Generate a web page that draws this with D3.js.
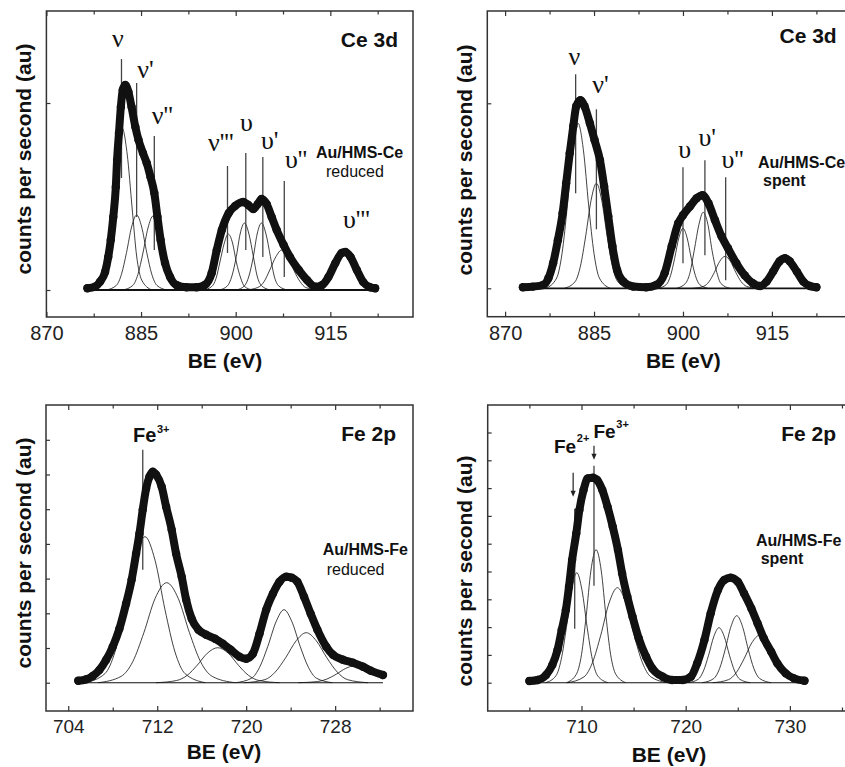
<!DOCTYPE html>
<html><head><meta charset="utf-8">
<script src="https://cdn.jsdelivr.net/npm/d3@7"></script>
<style>body{margin:0;background:#fff}svg{display:block}</style>
</head><body>
<svg id="c" width="845" height="767"></svg>
<script>
// ---------- tick values ----------
const ceTicksMajor = [870, 885, 900, 915];
const ceTicksMinor = [877.5, 892.5, 907.5, 922.5];
const feRedTicksMajor = [704, 712, 720, 728];
const feRedTicksMinor = [708, 716, 724, 732];
const feSpTicksMajor = [710, 720, 730];
const feSpTicksMinor = [705, 715, 725, 735];
const ceRedYTicks = [0, 187];
const ceSpYTicks = [0, 185];
const feRedYTicks = [0, 34.7, 69.4, 104.1, 138.8, 173.5, 208.2, 242.9];
const feSpYTicks = [0, 27.8, 55.6, 83.4, 111.2, 139.0, 166.8, 194.6, 222.4, 250.2];

// ---------- experimental envelopes [BE, counts] ----------
const ceReducedEnvelope = [[876.5,1.7],[877.7,3.3],[878.5,8.3],[879.3,18],[879.8,33],[880.2,50],[880.6,73],[881.0,103],[881.2,130],[881.5,157],[881.8,183],[882.1,200],[882.5,205],[883.0,198],[883.5,183],[884.1,163],[884.6,150],[885.3,137],[885.9,127],[886.5,113],[887.1,97],[887.6,73],[888.1,50],[888.8,27],[889.6,13],[890.6,5],[892.2,2.7],[893.8,2.7],[895.1,5],[896.2,17],[897.0,40],[897.8,60],[898.9,77],[899.9,84],[901.2,88],[902.0,85],[902.8,81],[903.5,86],[904.1,91],[904.9,86],[905.7,73],[906.5,60],[907.6,45],[908.6,33],[910.0,20],[911.3,10],[912.6,3.3],[913.7,5],[914.7,13],[915.8,27],[916.8,37],[917.4,38],[918.2,33],[919.2,20],[920.2,8],[921.3,2.7],[922.1,1.7]];
const ceSpentEnvelope = [[873.0,1],[874.7,1.7],[876.4,3.3],[877.3,10],[878.1,25],[878.9,48],[879.7,75],[880.3,105],[880.9,135],[881.5,162],[882.0,182],[882.7,188],[883.4,182],[884.3,165],[885.1,148],[886.0,128],[886.7,102],[887.4,72],[888.1,42],[888.9,18],[889.9,7],[891.6,1.7],[893.8,1],[895.5,3.3],[896.9,15],[898.1,42],[899.2,65],[900.0,73],[901.2,82],[902.3,90],[903.3,93],[904.3,85],[905.4,68],[906.5,52],[907.6,40],[909.0,25],[910.4,13],[911.8,5],[913.0,2.3],[914.1,6.7],[915.2,16.7],[916.3,27],[917.2,30],[918.0,27],[919.2,16.7],[920.3,6.7],[921.4,2.3],[922.5,1]];
const feReducedEnvelope = [[704.9,2],[705.6,3.3],[706.2,6.7],[706.8,12.7],[707.4,22.7],[708.0,36],[708.6,54],[709.2,79],[709.7,103],[710.1,129],[710.4,149],[710.7,173],[711.0,194],[711.3,206],[711.6,211],[711.9,208],[712.4,196],[712.8,176],[713.3,153],[713.7,129],[714.2,106],[714.6,83],[715.1,64],[715.7,53],[716.4,48],[717.2,44],[717.9,39],[718.6,33],[719.4,26],[720.0,24],[720.6,29],[721.2,49],[721.8,73],[722.4,89],[723.0,101],[723.6,106],[724.1,105],[724.6,101],[725.2,86],[725.8,69],[726.4,53],[727.2,36],[727.8,28],[728.7,23],[729.6,20],[730.5,16],[731.2,12],[732.3,7.7]];
const feSpentEnvelope = [[705.0,1.7],[705.8,2.7],[706.6,7.7],[707.2,17.7],[707.7,32.7],[708.1,52.7],[708.5,72.7],[708.8,96],[709.1,122.7],[709.5,149.3],[709.8,172.7],[710.2,192.7],[710.6,204.3],[711.1,205],[711.5,202.7],[712.0,192.7],[712.5,176],[713.0,156],[713.5,132.7],[713.9,109.3],[714.4,86],[714.9,66],[715.5,44.3],[716.2,26],[716.8,14.3],[717.8,6],[718.7,2.7],[719.7,2.7],[720.5,6],[721.1,19.3],[721.8,42.7],[722.4,69.3],[723.1,92.7],[723.7,102.7],[724.3,105],[725.0,101],[725.6,89.3],[726.3,74.3],[726.9,59.3],[727.5,44.3],[728.2,31],[728.8,19.3],[729.6,9.3],[730.4,4.3],[731.4,2]];

// ---------- fitted components [BE, counts] ----------
const ceRedNu   = [[877.4,0],[878.9,10],[879.7,34],[880.5,81],[881.2,136],[882.0,162],[882.8,136],[883.6,81],[884.3,34],[885.1,10],[886.7,0]];
const ceRedNu1  = [[879.5,0],[881.1,4.7],[881.9,15.8],[882.7,37.5],[883.5,63],[884.3,75],[885.1,63],[885.9,37.5],[886.7,15.8],[887.5,4.7],[889.1,0]];
const ceRedNu2  = [[882.1,0],[883.7,4.6],[884.5,15.5],[885.3,37],[886.1,62],[886.9,74],[887.7,62],[888.5,37],[889.3,15.5],[890.1,4.6],[891.7,0]];
const ceRedNu3  = [[894.9,0],[896.2,3.5],[896.9,11.8],[897.5,28],[898.2,47],[898.8,56],[899.5,47],[900.1,28],[900.8,11.8],[901.4,3.5],[902.7,0]];
const ceRedU    = [[897.4,0],[898.7,4.2],[899.4,14],[900.1,33.5],[900.7,56],[901.4,67],[902.1,56],[902.8,33.5],[903.4,14],[904.1,4.2],[905.5,0]];
const ceRedU1   = [[900.1,0],[901.4,4.2],[902.1,14],[902.8,33.5],[903.4,56],[904.1,67],[904.8,56],[905.5,33.5],[906.1,14],[906.8,4.2],[908.2,0]];
const ceRedU2   = [[901.6,0],[903.5,2.5],[904.5,8.4],[905.4,20],[906.4,33.6],[907.3,40],[908.3,33.6],[909.2,20],[910.2,8.4],[911.1,2.5],[913.0,0]];

const ceSpNu  = [[876.9,0],[878.7,10.3],[879.6,34.7],[880.5,82.5],[881.4,138.6],[882.3,165],[883.2,138.6],[884.1,82.5],[885.0,34.7],[885.9,10.3],[887.7,0]];
const ceSpNu1 = [[880.0,0],[881.8,6.6],[882.7,22],[883.6,52.5],[884.5,88],[885.4,105],[886.3,88],[887.2,52.5],[888.1,22],[889.0,6.6],[890.8,0]];
const ceSpU   = [[895.8,0],[897.2,3.8],[897.9,12.6],[898.6,30],[899.3,50.4],[900.0,60],[900.7,50.4],[901.4,30],[902.1,12.6],[902.8,3.8],[904.2,0]];
const ceSpU1  = [[898.9,0],[900.4,4.8],[901.2,16],[901.9,38],[902.7,64],[903.4,76],[904.2,64],[904.9,38],[905.7,16],[906.4,4.8],[907.9,0]];
const ceSpU2  = [[901.7,0],[903.5,2],[904.4,6.7],[905.3,16],[906.2,27],[907.1,32],[908.0,27],[908.9,16],[909.8,6.7],[910.7,2],[912.5,0]];

const feRedC1 = [[705.5,0],[707.3,9.1],[708.2,30.7],[709.1,73],[710.0,122.6],[710.9,146],[711.8,122.6],[712.7,73],[713.6,30.7],[714.5,9.1],[716.3,0]];
const feRedC2 = [[706.7,0],[708.75,6.3],[709.8,21],[710.8,50],[711.8,84],[712.85,100],[713.9,84],[714.9,50],[715.9,21],[716.95,6.3],[719.0,0]];
const feRedC3 = [[711.9,0],[713.75,2.2],[714.7,7.4],[715.6,17.5],[716.5,29.4],[717.45,35],[718.4,29.4],[719.3,17.5],[720.2,7.4],[721.15,2.2],[723.0,0]];
const feRedC4 = [[719.05,0],[720.5,4.6],[721.2,15.3],[721.95,36.5],[722.7,61.3],[723.4,73],[724.1,61.3],[724.85,36.5],[725.6,15.3],[726.3,4.6],[727.75,0]];
const feRedC5 = [[719.85,0],[721.7,3.1],[722.6,10.5],[723.55,25],[724.5,42],[725.4,50],[726.3,42],[727.25,25],[728.2,10.5],[729.1,3.1],[730.95,0]];
const feRedC6 = [[724.7,0],[726.4,1.1],[727.25,3.6],[728.1,8.5],[728.95,14.3],[729.8,17],[730.65,14.3],[731.5,8.5],[732.3,3.7]];

const feSpC1 = [[706.55,0],[707.55,6.9],[708.05,23],[708.55,55],[709.05,92.4],[709.55,110],[710.05,92.4],[710.55,55],[711.05,23],[711.55,6.9],[712.55,0]];
const feSpC2 = [[708.55,0],[709.5,8.3],[710.0,28],[710.45,66.5],[710.9,111.7],[711.4,133],[711.9,111.7],[712.35,66.5],[712.8,28],[713.3,8.3],[714.25,0]];
const feSpC3 = [[708.65,0],[710.25,5.9],[711.05,20],[711.85,47.5],[712.65,79.8],[713.45,95],[714.25,79.8],[715.05,47.5],[715.85,20],[716.65,5.9],[718.25,0]];
const feSpC4 = [[720.2,0],[721.2,3.4],[721.7,11.6],[722.2,27.5],[722.7,46.2],[723.2,55],[723.7,46.2],[724.2,27.5],[724.7,11.6],[725.2,3.4],[726.2,0]];
const feSpC5 = [[721.6,0],[722.7,4.2],[723.25,14],[723.8,33.5],[724.35,56.3],[724.9,67],[725.45,56.3],[726.0,33.5],[726.55,14],[727.1,4.2],[728.2,0]];
const feSpC6 = [[722.6,0],[724.1,3],[724.85,10],[725.6,23.8],[726.35,40],[727.1,47.5],[727.85,40],[728.6,23.8],[729.35,10],[730.1,3],[731.6,0]];

// ---------- peak markers (BE, counts from / to) and labels ----------
const ceRedMarkers = [{x:881.9,y0:112,y1:231},{x:884.3,y0:73,y1:207},{x:887.1,y0:40,y1:154},{x:898.7,y0:37,y1:124},{x:901.6,y0:40,y1:137},{x:904.3,y0:33,y1:133},{x:907.7,y0:13,y1:109}];
const ceRedLabels = [{t:"ν",x:880.4,y:243},{t:"ν'",x:884.4,y:212},{t:"ν''",x:886.7,y:166},{t:"ν'''",x:895.6,y:139},{t:"υ",x:900.7,y:159},{t:"υ'",x:904.0,y:141},{t:"υ''",x:907.8,y:122},{t:"υ'''",x:917.0,y:62}];
const ceSpMarkers = [{x:881.9,y0:95,y1:214},{x:885.4,y0:59,y1:179},{x:900.0,y0:25,y1:121},{x:903.7,y0:33,y1:128},{x:907.2,y0:8,y1:111}];
const ceSpLabels = [{t:"ν",x:880.7,y:223},{t:"ν'",x:884.7,y:195},{t:"υ",x:899.2,y:130},{t:"υ'",x:902.6,y:142},{t:"υ''",x:906.5,y:120}];
const feRedMarkers = [{x:710.7,y0:113,y1:233}];
const feSpMarkers = [{x:709.35,y0:54,y1:174},{x:711.2,y0:97,y1:217}];
const feSpArrows = [{x:709.2,y0:210,y1:186},{x:711.2,y0:237,y1:223}];

// ---------- layout ----------
const SANS = "'Liberation Sans', Arial, sans-serif";
const SERIF = "'Liberation Serif', 'Times New Roman', serif";
const INK = "#111";
const svg = d3.select("#c");

const panels = [
  {l:46.4, r:413, t:11, b:317, xDom:[870,928.1], yDom:[-27,279], major:ceTicksMajor, minor:ceTicksMinor, yTicks:ceRedYTicks,
   env:ceReducedEnvelope, comps:[ceRedNu,ceRedNu1,ceRedNu2,ceRedNu3,ceRedU,ceRedU1,ceRedU2], markers:ceRedMarkers, labels:ceRedLabels, arrows:[],
   tickFs:20, tickOff:23, baseW:1.8,
   yTitle:[31,159], xTitle:[225,368], elem:{t:"Ce 3d", x:398, y:46.7}, samp:[{t:"Au/HMS-Ce",x:316,y:158,w:"bold"},{t:"reduced",x:326,y:177,w:"normal"}]},
  {l:487.3, r:849, t:11, b:316.7, xDom:[867,928], yDom:[-28.4,277.3], major:ceTicksMajor, minor:ceTicksMinor, yTicks:ceSpYTicks,
   env:ceSpentEnvelope, comps:[ceSpNu,ceSpNu1,ceSpU,ceSpU1,ceSpU2], markers:ceSpMarkers, labels:ceSpLabels, arrows:[],
   tickFs:20, tickOff:23, baseW:1.8,
   yTitle:[472,160], xTitle:[683.3,368], elem:{t:"Ce 3d", x:836.7, y:43.3}, samp:[{t:"Au/HMS-Ce",x:758,y:168,w:"bold"},{t:"spent",x:763,y:186,w:"bold"}]},
  {l:46, r:413, t:405, b:711, xDom:[702,735], yDom:[-28.3,277.7], major:feRedTicksMajor, minor:feRedTicksMinor, yTicks:feRedYTicks,
   env:feReducedEnvelope, comps:[feRedC1,feRedC2,feRedC3,feRedC4,feRedC5,feRedC6], markers:feRedMarkers, labels:[], arrows:[],
   tickFs:19, tickOff:21.5, baseW:1.1,
   yTitle:[31,553], xTitle:[224,759], elem:{t:"Fe 2p", x:396, y:440.7}, samp:[{t:"Au/HMS-Fe",x:322.7,y:555,w:"bold"},{t:"reduced",x:326.7,y:575,w:"normal"}]},
  {l:487.7, r:852.4, t:405, b:711, xDom:[701,736], yDom:[-28.3,277.7], major:feSpTicksMajor, minor:feSpTicksMinor, yTicks:feSpYTicks,
   env:feSpentEnvelope, comps:[feSpC1,feSpC2,feSpC3,feSpC4,feSpC5,feSpC6], markers:feSpMarkers, labels:[], arrows:feSpArrows,
   tickFs:19, tickOff:21.5, baseW:1.1,
   yTitle:[472,571], xTitle:[669,762], elem:{t:"Fe 2p", x:836, y:440.7}, samp:[{t:"Au/HMS-Fe",x:756,y:546,w:"bold"},{t:"spent",x:760.7,y:564,w:"bold"}]}
];

function styleAxis(sel) {
  sel.select(".domain").remove();
  sel.selectAll("line").attr("stroke", "#333").attr("stroke-width", 1.2);
}

panels.forEach((p, i) => {
  const x = d3.scaleLinear().domain(p.xDom).range([p.l, p.r]);
  const y = d3.scaleLinear().domain(p.yDom).range([p.b, p.t]);
  const g = svg.append("g");
  const line = d3.line().x(d => x(d[0])).y(d => y(d[1])).curve(d3.curveMonotoneX);

  // frame
  g.append("rect").attr("x", p.l).attr("y", p.t).attr("width", p.r - p.l).attr("height", p.b - p.t)
    .attr("fill", "none").attr("stroke", "#333").attr("stroke-width", 1.5);

  // bottom axis (major with labels)
  const bx = g.append("g").attr("transform", `translate(0,${p.b})`)
    .call(d3.axisBottom(x).tickValues(p.major).tickSizeInner(-5).tickSizeOuter(0).tickPadding(0).tickFormat(d3.format("d")));
  styleAxis(bx);
  bx.attr("font-family", SANS).attr("font-size", p.tickFs);
  bx.selectAll("text").attr("y", p.tickOff).attr("dy", null).attr("fill", "#222");
  const bxm = g.append("g").attr("transform", `translate(0,${p.b})`)
    .call(d3.axisBottom(x).tickValues(p.minor).tickSizeInner(-3.5).tickSizeOuter(0).tickFormat(""));
  styleAxis(bxm);
  // top axis
  const tx = g.append("g").attr("transform", `translate(0,${p.t})`)
    .call(d3.axisTop(x).tickValues(p.major).tickSizeInner(-5).tickSizeOuter(0).tickFormat(""));
  styleAxis(tx);
  const txm = g.append("g").attr("transform", `translate(0,${p.t})`)
    .call(d3.axisTop(x).tickValues(p.minor).tickSizeInner(-3.5).tickSizeOuter(0).tickFormat(""));
  styleAxis(txm);
  // left axis
  const ly = g.append("g").attr("transform", `translate(${p.l},0)`)
    .call(d3.axisLeft(y).tickValues(p.yTicks).tickSizeInner(-4).tickSizeOuter(0).tickFormat(""));
  styleAxis(ly);

  // fitted components
  g.append("g").selectAll("path").data(p.comps).join("path")
    .attr("d", line).attr("fill", "none").attr("stroke", INK).attr("stroke-width", 0.8);

  // baseline
  const ext = d3.extent(p.env, d => d[0]);
  g.append("line").attr("x1", x(ext[0])).attr("x2", x(ext[1])).attr("y1", y(0)).attr("y2", y(0))
    .attr("stroke", INK).attr("stroke-width", p.baseW);

  // peak marker lines
  g.append("g").selectAll("line").data(p.markers).join("line")
    .attr("x1", d => x(d.x)).attr("x2", d => x(d.x)).attr("y1", d => y(d.y0)).attr("y2", d => y(d.y1))
    .attr("stroke", "#444").attr("stroke-width", 1.3);

  // experimental envelope
  g.append("path").datum(p.env).attr("d", line).attr("fill", "none").attr("stroke", INK)
    .attr("stroke-width", 8).attr("stroke-linejoin", "round").attr("stroke-linecap", "round");
  g.append("g").selectAll("circle").data(p.env).join("circle")
    .attr("cx", d => x(d[0])).attr("cy", d => y(d[1])).attr("r", 4.2).attr("fill", INK);

  // arrows
  const ag = g.append("g");
  p.arrows.forEach(a => {
    ag.append("line").attr("x1", x(a.x)).attr("x2", x(a.x)).attr("y1", y(a.y0)).attr("y2", y(a.y1) - 4)
      .attr("stroke", "#222").attr("stroke-width", 1.2);
    const ax0 = x(a.x), ay = y(a.y1);
    ag.append("path").attr("d", `M${ax0 - 2.6},${ay - 6}L${ax0 + 2.6},${ay - 6}L${ax0},${ay}Z`).attr("fill", "#222");
  });

  // Greek labels
  g.append("g").selectAll("text").data(p.labels).join("text")
    .attr("x", d => x(d.x)).attr("y", d => y(d.y)).text(d => d.t)
    .attr("font-family", SERIF).attr("font-size", 26).attr("fill", INK);

  // titles
  g.append("text").attr("transform", `translate(${p.yTitle[0]},${p.yTitle[1]}) rotate(-90)`)
    .attr("text-anchor", "middle").attr("font-family", SANS).attr("font-weight", "bold").attr("font-size", 21)
    .attr("fill", INK).text("counts per second (au)");
  g.append("text").attr("x", p.xTitle[0]).attr("y", p.xTitle[1]).attr("text-anchor", "middle")
    .attr("font-family", SANS).attr("font-weight", "bold").attr("font-size", 21).attr("fill", INK).text("BE (eV)");
  g.append("text").attr("x", p.elem.x).attr("y", p.elem.y).attr("text-anchor", "end")
    .attr("font-family", SANS).attr("font-weight", "bold").attr("font-size", 21).attr("fill", INK).text(p.elem.t);
  p.samp.forEach(s => {
    g.append("text").attr("x", s.x).attr("y", s.y).attr("font-family", SANS).attr("font-weight", s.w)
      .attr("font-size", 16).attr("fill", INK).text(s.t);
  });
});

// iron oxidation-state labels with superscripts
function ionLabel(xp, yp, base, sup, supDx, supDy, fs) {
  svg.append("text").attr("x", xp).attr("y", yp).attr("font-family", SANS).attr("font-weight", "bold")
    .attr("font-size", fs).attr("fill", INK).text(base);
  svg.append("text").attr("x", xp + supDx).attr("y", yp + supDy).attr("font-family", SANS).attr("font-weight", "bold")
    .attr("font-size", 11).attr("fill", INK).text(sup);
}
ionLabel(133, 441.7, "Fe", "3+", 24, -8.5, 20);
ionLabel(554, 452.7, "Fe", "2+", 22.8, -11, 19);
ionLabel(593.5, 438.3, "Fe", "3+", 22.8, -10, 19);
</script>
</body></html>
